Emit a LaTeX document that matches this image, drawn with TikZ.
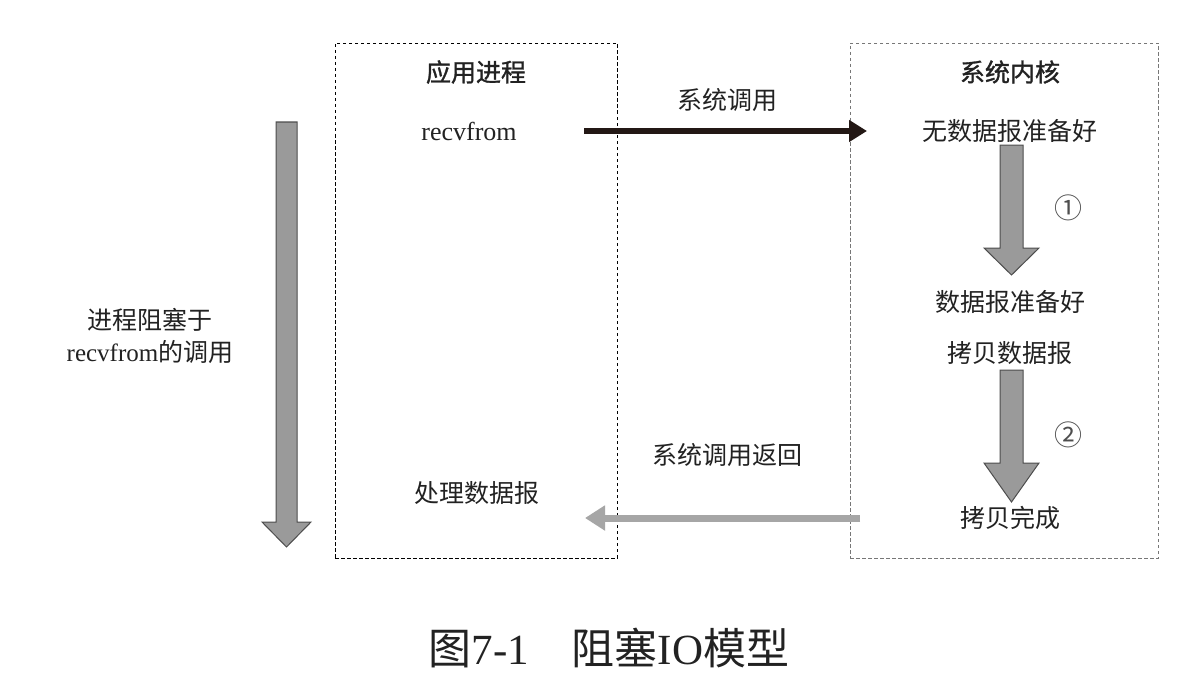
\documentclass[tikz,border=0pt]{standalone}
\usepackage{fontspec}
\setmainfont{Liberation Serif}
\newfontfamily\cjk{Noto Sans CJK SC}
\newfontfamily\cjkb{Noto Sans CJK SC}[FakeBold=1.2]
\usetikzlibrary{calc,arrows.meta}
\definecolor{txt}{HTML}{222222}
\definecolor{blockfill}{HTML}{9A9A9A}
\definecolor{blockline}{HTML}{4D4D4D}
\definecolor{retgray}{HTML}{A6A6A6}
\definecolor{boxgray}{HTML}{777777}
\definecolor{callcol}{HTML}{231815}
\newcommand\vblock[5]{%
  \draw[blockarrow] ($(#1)+(-#3,0)$) -- ($(#2)+(-#3,-#5)$) -- ($(#2)+(-#4,-#5)$) -- (#2)
    -- ($(#2)+(#4,-#5)$) -- ($(#2)+(#3,-#5)$) -- ($(#1)+(#3,0)$) -- cycle;}
\begin{document}
\begin{tikzpicture}[x=1pt,y=-1pt,
  lbl/.style={text=txt,inner sep=0pt,font=\fontsize{25}{32}\selectfont\cjk},
  ttl/.style={text=txt,inner sep=0pt,font=\fontsize{25}{32}\selectfont\cjkb},
  lat/.style={text=txt,inner sep=0pt,font=\fontsize{26}{32}\selectfont},
  circnum/.style={text=txt!80,inner sep=0pt,font=\fontsize{28}{30}\selectfont\cjk},
  procbox/.style={draw=black,dash pattern=on 3.5pt off 2.5pt,line width=0.8pt,inner sep=0pt},
  kernbox/.style={draw=boxgray,dash pattern=on 3.5pt off 2.5pt,line width=0.8pt,inner sep=0pt},
  blockarrow/.style={fill=blockfill,draw=blockline,line width=1pt,line join=miter},
  callarrow/.style={draw=callcol,line width=6pt,-{Triangle[length=18pt,width=21pt]}},
  retarrow/.style={draw=retgray,line width=7pt,-{Triangle[length=20pt,width=24pt]}}]
\useasboundingbox[fill=white] (0,0) rectangle (1198,690);

% boxes
\node[procbox,minimum width=282pt,minimum height=515pt] (app) at (476,300.5) {};
\node[kernbox,minimum width=308pt,minimum height=515pt] (kern) at (1004,300.5) {};

% left side
\node[ttl] (apptitle) at (476,72) {应用进程};
\node[lat] (recv) at (469,131) {recvfrom};
\node[lbl] (proc) at (477,493) {处理数据报};

% kernel side
\node[ttl] (kerntitle) at (1010,72) {系统内核};
\node[lbl] (nodata) at (1010,131) {无数据报准备好};
\node[lbl] (ready) at (1010,302) {数据报准备好};
\node[lbl] (copy) at (1010,353) {拷贝数据报};
\node[lbl] (done) at (1010,518) {拷贝完成};
\node[circnum] (n1) at (1068,208) {①};
\node[circnum] (n2) at (1068,435) {②};

% middle labels
\node[lbl] (calllbl) at (727,100) {系统调用};
\node[lbl] (retlbl) at (727,455) {系统调用返回};

% blocking label
\node[lbl,align=center] (block) at (150,336) {进程阻塞于\\{\fontspec{Liberation Serif}recvfrom}的调用};

% call / return arrows
\coordinate (cs) at (584,131);
\coordinate (ce) at (867,131);
\draw[callarrow] (cs) -- (ce);
\coordinate (rs) at (860,518);
\coordinate (re) at (585,518);
\draw[retarrow] (rs) -- (re);

% block arrows
\coordinate (bt) at (286.5,122);
\coordinate (bb) at (286.5,547);
\vblock{bt}{bb}{10.5}{24.5}{25}
\coordinate (a1t) at (1011.5,145);
\coordinate (a1b) at (1011.5,275);
\vblock{a1t}{a1b}{11.5}{27.5}{27}
\coordinate (a2t) at (1011.5,370);
\coordinate (a2b) at (1011.5,502);
\vblock{a2t}{a2b}{11.5}{27.5}{39}

% caption
\node[text=txt,inner sep=0pt,font=\fontsize{43}{46}\selectfont] (cap) at (609,648)
  {{\cjk 图}7-1{\cjk 　阻塞}IO{\cjk 模型}};
\end{tikzpicture}
\end{document}
